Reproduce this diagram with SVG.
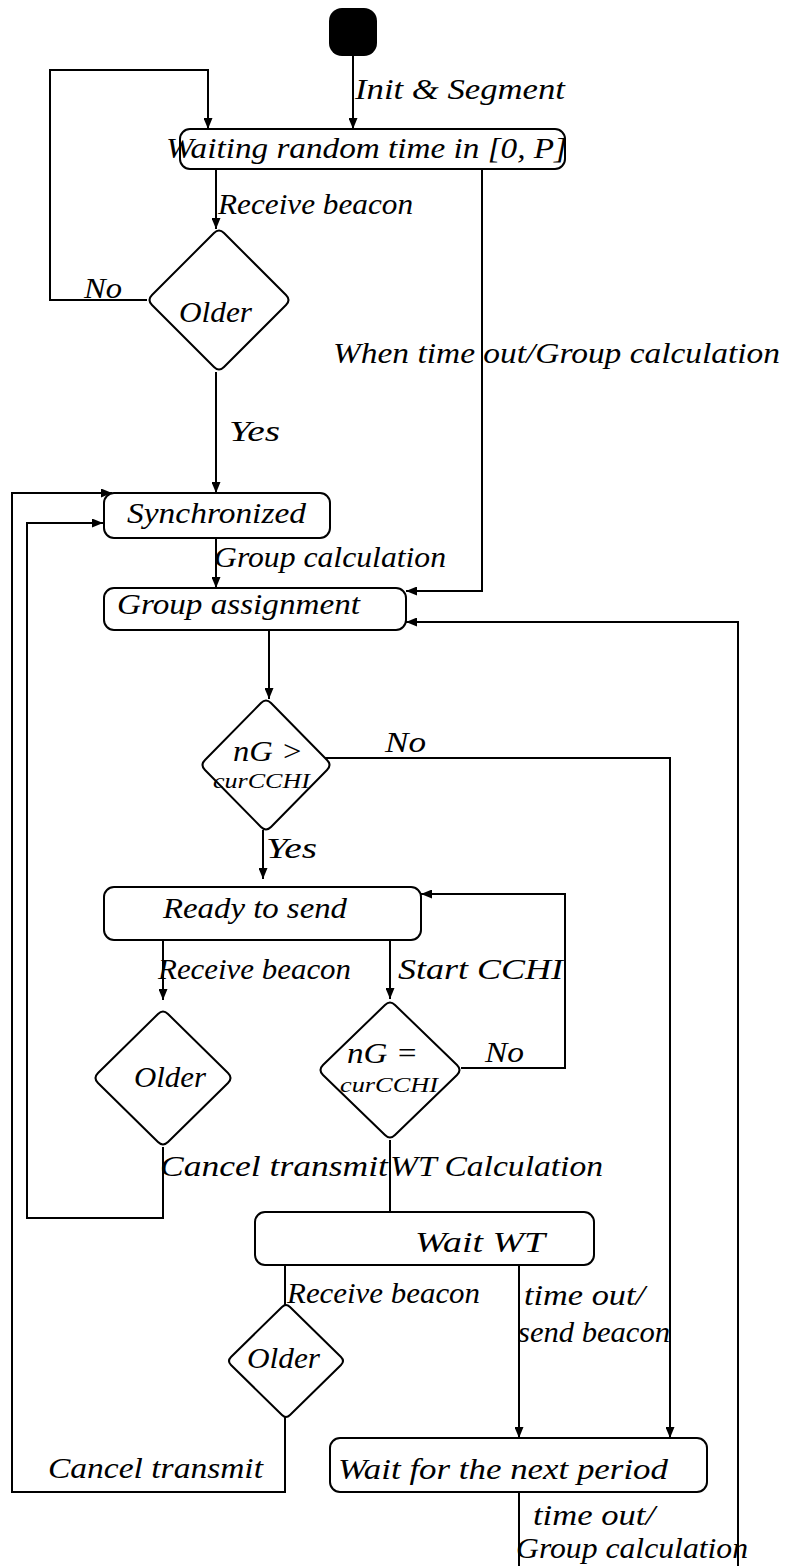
<svg xmlns="http://www.w3.org/2000/svg" width="785" height="1566" viewBox="0 0 785 1566">
<style>
.n{fill:#fff;stroke:#000;stroke-width:2}
.c{fill:none;stroke:#000;stroke-width:2}
.t{font-family:"Liberation Serif","Times New Roman",serif;font-style:italic;font-size:29px;fill:#000}
.s{font-size:20px}
</style>
<defs>
<marker id="ah" markerUnits="userSpaceOnUse" markerWidth="11" markerHeight="9" refX="11" refY="4.5" orient="auto">
<path d="M0,0 L11,4.5 L0,9 z" fill="#000"/>
</marker>
</defs>
<rect width="785" height="1566" fill="#fff"/>
<g id="connectors">
<path class="c" d="M353,56 L353,129" marker-end="url(#ah)"/>
<path class="c" d="M147,300 L50,300 L50,70 L208,70 L208,129" marker-end="url(#ah)"/>
<path class="c" d="M216,169 L216,229" marker-end="url(#ah)"/>
<path class="c" d="M216,372 L216,493" marker-end="url(#ah)"/>
<path class="c" d="M482,169 L482,591 L406,591" marker-end="url(#ah)"/>
<path class="c" d="M216,538 L216,588" marker-end="url(#ah)"/>
<path class="c" d="M269,630 L269,699" marker-end="url(#ah)"/>
<path class="c" d="M324,758 L670,758 L670,1438" marker-end="url(#ah)"/>
<path class="c" d="M263,830 L263,879" marker-end="url(#ah)"/>
<path class="c" d="M461,1068 L565,1068 L565,894 L421,894" marker-end="url(#ah)"/>
<path class="c" d="M163,940 L163,1000" marker-end="url(#ah)"/>
<path class="c" d="M390,940 L390,999" marker-end="url(#ah)"/>
<path class="c" d="M163,1147 L163,1218 L27,1218 L27,523 L103,523" marker-end="url(#ah)"/>
<path class="c" d="M390,1140 L390,1212"/>
<path class="c" d="M285,1265 L285,1308"/>
<path class="c" d="M285,1414 L285,1492 L12,1492 L12,493 L112,493" marker-end="url(#ah)"/>
<path class="c" d="M519,1265 L519,1438" marker-end="url(#ah)"/>
<path class="c" d="M519,1492 L519,1566"/>
<path class="c" d="M738,1566 L738,622 L406,622" marker-end="url(#ah)"/>
</g>
<g id="labels">
<text class="t" x="355" y="99" textLength="210" lengthAdjust="spacingAndGlyphs">Init &amp; Segment</text>
<text class="t" x="218" y="214" textLength="195" lengthAdjust="spacingAndGlyphs">Receive beacon</text>
<text class="t" x="84" y="298" textLength="38" lengthAdjust="spacingAndGlyphs">No</text>
<text class="t" x="333" y="363" textLength="447" lengthAdjust="spacingAndGlyphs">When time out/Group calculation</text>
<text class="t" x="229" y="441" textLength="51" lengthAdjust="spacingAndGlyphs">Yes</text>
<text class="t" x="214" y="567" textLength="232" lengthAdjust="spacingAndGlyphs">Group calculation</text>
<text class="t" x="385" y="752" textLength="41" lengthAdjust="spacingAndGlyphs">No</text>
<text class="t" x="266" y="858" textLength="51" lengthAdjust="spacingAndGlyphs">Yes</text>
<text class="t" x="158" y="979" textLength="193" lengthAdjust="spacingAndGlyphs">Receive beacon</text>
<text class="t" x="398" y="979" textLength="165" lengthAdjust="spacingAndGlyphs">Start CCHI</text>
<text class="t" x="485" y="1062" textLength="39" lengthAdjust="spacingAndGlyphs">No</text>
<text class="t" x="160" y="1176" textLength="228" lengthAdjust="spacingAndGlyphs">Cancel transmit</text>
<text class="t" x="390" y="1176" textLength="213" lengthAdjust="spacingAndGlyphs">WT Calculation</text>
<text class="t" x="287" y="1303" textLength="193" lengthAdjust="spacingAndGlyphs">Receive beacon</text>
<text class="t" x="524" y="1305" textLength="121" lengthAdjust="spacingAndGlyphs">time out/</text>
<text class="t" x="518" y="1342" textLength="152" lengthAdjust="spacingAndGlyphs">send beacon</text>
<text class="t" x="48" y="1478" textLength="215" lengthAdjust="spacingAndGlyphs">Cancel transmit</text>
<text class="t" x="533" y="1525" textLength="122" lengthAdjust="spacingAndGlyphs">time out/</text>
<text class="t" x="516" y="1558" textLength="232" lengthAdjust="spacingAndGlyphs">Group calculation</text>
</g>
<g id="start">
<rect x="329" y="8" width="48" height="48" rx="13" fill="#000"/>
</g>
<g id="waiting">
<rect class="n" x="180" y="129" width="385" height="40" rx="10"/>
<text class="t" x="166" y="158" textLength="401" lengthAdjust="spacingAndGlyphs">Waiting random time in [0, P]</text>
</g>
<g id="older1">
<path class="n" d="M224,233 L286,295 Q291,300 286,305 L224,367 Q219,372 214,367 L152,305 Q147,300 152,295 L214,233 Q219,228 224,233 Z"/>
<text class="t" x="179" y="322" textLength="73" lengthAdjust="spacingAndGlyphs">Older</text>
</g>
<g id="synchronized">
<rect class="n" x="104" y="493" width="226" height="45" rx="10"/>
<text class="t" x="127" y="523" textLength="179" lengthAdjust="spacingAndGlyphs">Synchronized</text>
</g>
<g id="group-assignment">
<rect class="n" x="104" y="588" width="302" height="42" rx="10"/>
<text class="t" x="117" y="614" textLength="243" lengthAdjust="spacingAndGlyphs">Group assignment</text>
</g>
<g id="decision-gt">
<path class="n" d="M271,703 L327,760 Q332,765 327,770 L271,827 Q266,832 261,827 L205,770 Q200,765 205,760 L261,703 Q266,698 271,703 Z"/>
<text class="t" x="233" y="761" textLength="70" lengthAdjust="spacingAndGlyphs">nG &gt;</text>
<text class="t s" x="213" y="788" textLength="97" lengthAdjust="spacingAndGlyphs">curCCHI</text>
</g>
<g id="ready">
<rect class="n" x="104" y="887" width="317" height="53" rx="10"/>
<text class="t" x="163" y="918" textLength="184" lengthAdjust="spacingAndGlyphs">Ready to send</text>
</g>
<g id="older2">
<path class="n" d="M168,1014 L228,1073 Q233,1078 228,1083 L168,1142 Q163,1147 158,1142 L98,1083 Q93,1078 98,1073 L158,1014 Q163,1009 168,1014 Z"/>
<text class="t" x="134" y="1087" textLength="72" lengthAdjust="spacingAndGlyphs">Older</text>
</g>
<g id="decision-eq">
<path class="n" d="M395,1005 L457,1065 Q462,1070 457,1075 L395,1135 Q390,1140 385,1135 L323,1075 Q318,1070 323,1065 L385,1005 Q390,1000 395,1005 Z"/>
<text class="t" x="347" y="1063" textLength="71" lengthAdjust="spacingAndGlyphs">nG =</text>
<text class="t s" x="340" y="1092" textLength="98" lengthAdjust="spacingAndGlyphs">curCCHI</text>
</g>
<g id="wait-wt">
<rect class="n" x="255" y="1212" width="339" height="53" rx="10"/>
<text class="t" x="415" y="1252" textLength="130" lengthAdjust="spacingAndGlyphs">Wait WT</text>
</g>
<g id="older3">
<path class="n" d="M290,1307 L341,1357 Q345,1361 341,1365 L290,1415 Q286,1419 282,1415 L231,1365 Q227,1361 231,1357 L282,1307 Q286,1303 290,1307 Z"/>
<text class="t" x="247" y="1368" textLength="73" lengthAdjust="spacingAndGlyphs">Older</text>
</g>
<g id="wait-next">
<rect class="n" x="330" y="1438" width="377" height="54" rx="10"/>
<text class="t" x="338" y="1479" textLength="330" lengthAdjust="spacingAndGlyphs">Wait for the next period</text>
</g>
</svg>
